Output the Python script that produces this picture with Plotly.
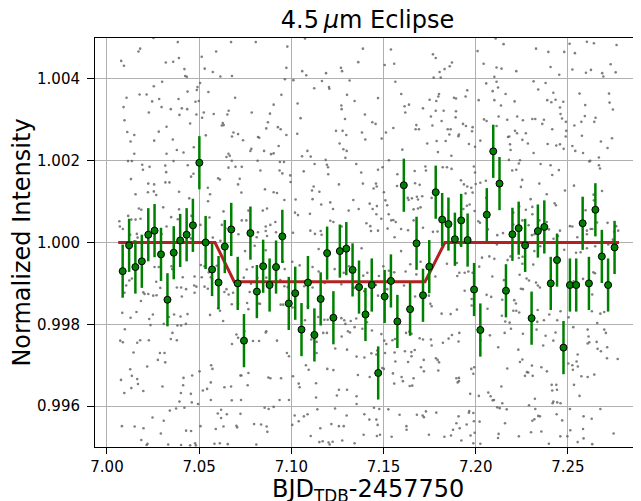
import plotly.graph_objects as go

# ---------------- binned light curve ----------------
bin_time = [7.0085, 7.0120, 7.0154, 7.0189, 7.0224, 7.0258, 7.0293, 7.0328, 7.0362, 7.0397,
            7.0432, 7.0466, 7.0501, 7.0535, 7.0570, 7.0605, 7.0639, 7.0674, 7.0709, 7.0743,
            7.0778, 7.0813, 7.0847, 7.0882, 7.0917, 7.0951, 7.0986, 7.1021, 7.1055, 7.1090,
            7.1125, 7.1159, 7.1194, 7.1228, 7.1263, 7.1298, 7.1332, 7.1367, 7.1402, 7.1436,
            7.1471, 7.1506, 7.1540, 7.1575, 7.1610, 7.1644, 7.1679, 7.1714, 7.1748, 7.1783,
            7.1818, 7.1852, 7.1887, 7.1921, 7.1956, 7.1991, 7.2025, 7.2060, 7.2095, 7.2129,
            7.2164, 7.2199, 7.2233, 7.2268, 7.2303, 7.2337, 7.2372, 7.2407, 7.2441, 7.2476,
            7.2511, 7.2545, 7.2580, 7.2614, 7.2649, 7.2684, 7.2718, 7.2753]
bin_flux = [0.99930, 0.99993, 0.99940, 0.99954, 1.00019, 1.00029, 0.99971, 0.99860, 0.99975, 1.00005,
            1.00019, 1.00042, 1.00195, 1.00000, 0.99934, 0.99902, 0.99990, 1.00032, 0.99900, 0.99760,
            1.00023, 0.99880, 0.99942, 0.99896, 0.99940, 1.00015, 0.99851, 0.99876, 0.99787, 0.99902,
            0.99774, 0.99862, 0.99974, 0.99816, 0.99979, 0.99985, 0.99933, 0.99891, 0.99824, 0.99896,
            0.99681, 0.99868, 0.99906, 0.99807, 1.00140, 0.99837, 0.99998, 0.99871, 0.99941, 1.00123,
            1.00056, 1.00045, 1.00008, 1.00054, 1.00006, 0.99885, 0.99786, 1.00068, 1.00223, 1.00144,
            0.99882, 1.00020, 1.00035, 0.99993, 0.99815, 1.00028, 1.00038, 0.99900, 0.99957, 0.99743,
            0.99896, 0.99896, 1.00047, 0.99900, 1.00080, 0.99966, 0.99896, 0.99988]
bin_err = [0.00065] * 78

# ---------------- eclipse model ----------------
model_time = [7.0061, 7.0586, 7.0690, 7.1725, 7.1833, 7.2777]
model_flux = [1.00000, 1.00000, 0.99904, 0.99904, 1.00000, 1.00000]

# ---------------- unbinned photometry (gray dots) ----------------
raw_time_a = [7.0384,7.0673,7.0807,7.0252,7.0180,7.0171,7.0592,7.0514,7.0077,7.0092,
 7.0319,7.0359,7.0390,7.0420,7.0530,7.0574,7.0615,7.0678,7.0424,7.0433,
 7.0299,7.0254,7.0505,7.0491,7.0487,7.0550,7.0177,7.0215,7.0106,7.0245,
 7.0283,7.0388,7.0437,7.0480,7.0498,7.0695,7.0090,7.0296,7.0346,7.0406,
 7.0435,7.0227,7.0393,7.0525,7.0516,7.0485,7.0579,7.0660,7.0653,7.0785,
 7.0904,7.0884,7.0095,7.0451,7.0628,7.0633,7.0623,7.0873,7.0864,7.0323,
 7.0281,7.0110,7.0148,7.0128,7.0256,7.0357,7.0686,7.0678,7.0711,7.0738,
 7.0819,7.0826,7.0471,7.0536,7.0783,7.0778,7.0852,7.0904,7.0890,7.0379,
 7.0415,7.0323,7.0659,7.0648,7.0666,7.0148,7.0114,7.0135,7.0361,7.0191,
 7.0231,7.0316,7.0195,7.0438,7.0659,7.0697,7.0731,7.0832,7.0817,7.0677,
 7.0321,7.0469,7.0456,7.0130,7.0603,7.0612,7.0720,7.0224,7.0256,7.0317,
 7.0339,7.0711,7.0547,7.0729,7.0857,7.0904,7.0155,7.0254,7.0222,7.0267,
 7.0391,7.0559,7.0548,7.0446,7.0305,7.0391,7.0173,7.0186,7.0868,7.0845,
 7.0767,7.0632,7.0115,7.0132,7.0155,7.0182,7.0348,7.0458,7.0384,7.0556,
 7.0731,7.0756,7.0067,7.0070,7.0086,7.0623,7.0642,7.0323,7.0507,7.0861,
 7.0861,7.0886,7.0913,7.0819,7.0812,7.0917,7.0162,7.0126,7.0166,7.0148,
 7.0215,7.0296,7.0455,7.0574,7.0615,7.0713,7.0868]
raw_flux_a = [1.00490,1.00490,1.00490,1.00500,1.00474,1.00467,1.00467,1.00454,1.00444,1.00432,
 1.00440,1.00442,1.00451,1.00424,1.00425,1.00417,1.00406,1.00407,1.00407,1.00405,
 1.00393,1.00382,1.00390,1.00380,1.00373,1.00368,1.00362,1.00362,1.00354,1.00345,
 1.00351,1.00351,1.00369,1.00344,1.00346,1.00354,1.00331,1.00331,1.00326,1.00328,
 1.00326,1.00318,1.00312,1.00318,1.00305,1.00313,1.00314,1.00322,1.00313,1.00318,
 1.00337,1.00315,1.00299,1.00291,1.00292,1.00287,1.00286,1.00294,1.00279,1.00283,
 1.00271,1.00270,1.00263,1.00247,1.00249,1.00252,1.00269,1.00259,1.00265,1.00250,
 1.00258,1.00256,1.00233,1.00262,1.00229,1.00224,1.00224,1.00218,1.00216,1.00226,
 1.00220,1.00217,1.00217,1.00209,1.00212,1.00217,1.00199,1.00199,1.00199,1.00190,
 1.00185,1.00188,1.00178,1.00189,1.00183,1.00185,1.00185,1.00176,1.00200,1.00200,
 1.00172,1.00168,1.00161,1.00155,1.00157,1.00154,1.00156,1.00144,1.00142,1.00147,
 1.00147,1.00142,1.00134,1.00122,1.00130,1.00123,1.00118,1.00125,1.00123,1.00116,
 1.00124,1.00118,1.00101,1.00108,1.00086,1.00081,1.00083,1.00080,1.00083,1.00078,
 1.00078,1.00076,1.00065,1.00056,1.00056,1.00058,1.00062,1.00065,1.00057,1.00061,
 1.00054,1.00054,1.00052,1.00039,1.00033,1.00043,1.00035,1.00039,1.00043,1.00039,
 1.00028,1.00043,1.00050,1.00025,1.00013,1.00025,1.00021,1.00019,1.00012,1.00003,
 1.00013,1.00021,1.00010,1.00012,1.00004,1.00020,1.00016]

raw_time_b = [7.0978,7.1074,7.1388,7.1540,7.1768,7.1783,7.1871,7.1859,7.1831,7.1804,
 7.1558,7.1506,7.1363,7.0973,7.1059,7.1081,7.1188,7.1269,7.1275,7.1772,
 7.1810,7.0965,7.1011,7.1166,7.1316,7.1564,7.1124,7.1204,7.1206,7.0946,
 7.1302,7.1343,7.1470,7.1596,7.1801,7.1797,7.1786,7.1750,7.1882,7.1893,
 7.1034,7.1271,7.1273,7.1614,7.1638,7.1618,7.1714,7.1783,7.1826,7.1893,
 7.1399,7.1050,7.1291,7.1757,7.1815,7.1891,7.1439,7.1457,7.1678,7.1674,
 7.1692,7.1765,7.1848,7.1864,7.1857,7.0927,7.0942,7.0973,7.1032,7.1242,
 7.1278,7.1298,7.1383,7.1513,7.1553,7.1737,7.1788,7.1837,7.1906,7.1401,
 7.1490,7.1262,7.1282,7.1300,7.0931,7.1087,7.1058,7.1105,7.1293,7.1186,
 7.1602,7.1795,7.1868,7.0938,7.0960,7.0936,7.0951,7.0994,7.1193,7.1199,
 7.1200,7.1126,7.1352,7.1470,7.1495,7.1529,7.1669,7.1727,7.1730,7.1821,
 7.1844,7.1869,7.1067,7.1379,7.0996,7.1121,7.1112,7.1152,7.1258,7.1388,
 7.1459,7.1463,7.1446,7.1575,7.1671,7.1696,7.1573,7.0922,7.0962,7.1023,
 7.1115,7.1162,7.1211,7.1336,7.1425,7.1464,7.1502,7.1510,7.1520,7.1631,
 7.1636,7.1654,7.1681,7.1687,7.1710,7.1761,7.1020,7.1036,7.1101,7.1226,
 7.1311,7.1365,7.1441,7.1461,7.1663,7.1687,7.1701,7.1009,7.1103,7.1128,
 7.1159,7.1164,7.1211,7.1228,7.1273,7.1407,7.1428,7.1432,7.1470,7.1488,
 7.1528,7.1542,7.1553,7.1522,7.1566,7.1595,7.1633,7.1560,7.1663,7.1714,
 7.1768,7.1793]
raw_flux_b = [1.00479,1.00499,1.00474,1.00472,1.00460,1.00451,1.00440,1.00431,1.00424,1.00417,
 1.00437,1.00434,1.00441,1.00427,1.00419,1.00409,1.00414,1.00427,1.00419,1.00403,
 1.00403,1.00399,1.00397,1.00395,1.00396,1.00393,1.00377,1.00380,1.00376,1.00361,
 1.00361,1.00346,1.00353,1.00363,1.00363,1.00357,1.00346,1.00349,1.00354,1.00352,
 1.00340,1.00335,1.00326,1.00333,1.00337,1.00318,1.00328,1.00322,1.00322,1.00321,
 1.00313,1.00304,1.00302,1.00308,1.00297,1.00306,1.00294,1.00290,1.00287,1.00277,
 1.00277,1.00286,1.00277,1.00277,1.00264,1.00282,1.00277,1.00263,1.00266,1.00273,
 1.00273,1.00263,1.00269,1.00269,1.00280,1.00242,1.00248,1.00248,1.00260,1.00252,
 1.00254,1.00242,1.00228,1.00224,1.00236,1.00224,1.00211,1.00210,1.00207,1.00202,
 1.00227,1.00221,1.00212,1.00197,1.00197,1.00176,1.00169,1.00164,1.00190,1.00184,
 1.00167,1.00192,1.00192,1.00178,1.00184,1.00201,1.00175,1.00186,1.00176,1.00184,
 1.00184,1.00180,1.00174,1.00171,1.00148,1.00137,1.00127,1.00124,1.00142,1.00144,
 1.00144,1.00137,1.00132,1.00167,1.00145,1.00141,1.00138,1.00121,1.00104,1.00105,
 1.00106,1.00093,1.00098,1.00104,1.00095,1.00089,1.00123,1.00103,1.00091,1.00109,
 1.00104,1.00108,1.00112,1.00105,1.00113,1.00109,1.00073,1.00067,1.00070,1.00082,
 1.00078,1.00082,1.00082,1.00069,1.00081,1.00083,1.00086,1.00024,1.00029,1.00021,
 1.00028,1.00019,1.00053,1.00050,1.00039,1.00047,1.00040,1.00028,1.00029,1.00058,
 1.00069,1.00054,1.00055,1.00034,1.00050,1.00033,1.00030,1.00013,1.00054,1.00036,
 1.00026,1.00027]

raw_time_c = [7.2108,7.2151,7.2327,7.2394,7.2480,7.2010,7.2043,7.2113,7.2140,7.2220,
 7.2406,7.2453,7.2101,7.2509,7.2603,7.2641,7.2764,7.2538,7.2524,7.2598,
 7.2625,7.2686,7.2692,7.2759,7.2732,7.2057,7.2113,7.2314,7.2379,7.1954,
 7.1945,7.2092,7.2121,7.2339,7.2421,7.2016,7.2101,7.2162,7.2211,7.2137,
 7.2388,7.2410,7.2433,7.2475,7.2457,7.2460,7.2563,7.2723,7.2726,7.2594,
 7.2744,7.2045,7.2059,7.2124,7.2171,7.2225,7.2256,7.2307,7.2323,7.2370,
 7.2361,7.2468,7.2489,7.2650,7.2643,7.2592,7.2573,7.2535,7.1931,7.1947,
 7.1983,7.1980,7.1909,7.2113,7.2213,7.2224,7.2272,7.2182,7.2175,7.2253,
 7.2283,7.2415,7.2491,7.2488,7.1963,7.1996,7.2025,7.2186,7.2390,7.2437,
 7.2457,7.2477,7.2524,7.2540,7.2582,7.2576,7.2679,7.2715,7.2739,7.2189,
 7.2314,7.2668,7.2240,7.2180,7.1990,7.1996,7.1920,7.1936,7.1954,7.1976,
 7.1983,7.1945,7.2000,7.2025,7.2055,7.2198,7.2220,7.2234,7.2252,7.2245,
 7.2352,7.2406,7.2451,7.2415,7.2345,7.2385,7.2484,7.2533,7.2685,7.2668,
 7.2674,7.2621,7.2616,7.2639,7.1967,7.1933,7.1952,7.1994,7.2014,7.2023,
 7.2057,7.2066,7.2148,7.2117,7.2204,7.2204,7.2236,7.2253,7.2272,7.2298,
 7.2307,7.2307,7.2287,7.2305,7.2345,7.2319,7.2385,7.2397,7.2422,7.2428,
 7.2435,7.2457,7.2446,7.2511,7.2524,7.2551,7.2596,7.2603,7.2641,7.2603,
 7.2623,7.2632,7.2658,7.2715,7.2751,7.2773,7.2762,7.2744]
raw_flux_c = [1.00499,1.00485,1.00474,1.00466,1.00466,1.00468,1.00437,1.00428,1.00425,1.00419,
 1.00429,1.00410,1.00405,1.00486,1.00491,1.00487,1.00483,1.00463,1.00423,1.00415,
 1.00422,1.00414,1.00406,1.00416,1.00436,1.00389,1.00393,1.00394,1.00390,1.00372,
 1.00357,1.00370,1.00379,1.00374,1.00366,1.00348,1.00348,1.00363,1.00345,1.00335,
 1.00348,1.00343,1.00349,1.00344,1.00330,1.00314,1.00364,1.00364,1.00342,1.00336,
 1.00325,1.00301,1.00297,1.00308,1.00300,1.00308,1.00299,1.00302,1.00302,1.00300,
 1.00290,1.00303,1.00295,1.00305,1.00295,1.00309,1.00295,1.00286,1.00290,1.00285,
 1.00282,1.00272,1.00264,1.00285,1.00273,1.00267,1.00267,1.00259,1.00258,1.00251,
 1.00242,1.00277,1.00273,1.00259,1.00241,1.00234,1.00249,1.00240,1.00241,1.00237,
 1.00240,1.00229,1.00236,1.00224,1.00219,1.00261,1.00247,1.00231,1.00255,1.00226,
 1.00219,1.00208,1.00201,1.00202,1.00186,1.00171,1.00152,1.00142,1.00137,1.00134,
 1.00122,1.00120,1.00143,1.00146,1.00151,1.00176,1.00178,1.00193,1.00153,1.00136,
 1.00192,1.00189,1.00177,1.00165,1.00144,1.00118,1.00127,1.00139,1.00126,1.00189,
 1.00181,1.00200,1.00198,1.00117,1.00093,1.00082,1.00090,1.00077,1.00052,1.00048,
 1.00109,1.00032,1.00023,1.00018,1.00073,1.00044,1.00088,1.00054,1.00080,1.00106,
 1.00087,1.00069,1.00042,1.00018,1.00054,1.00020,1.00050,1.00032,1.00009,1.00096,
 1.00091,1.00029,1.00016,1.00040,1.00039,1.00013,1.00079,1.00029,1.00103,1.00020,
 1.00033,1.00033,1.00049,1.00048,1.00026,1.00029,1.00040,1.00007]

raw_time_d = [7.0749,7.0801,7.0861,7.0509,7.0529,7.0514,7.0563,7.0570,7.0552,7.0595,
 7.0758,7.0790,7.0742,7.0781,7.0774,7.0816,7.0864,7.0104,7.0095,7.0121,
 7.0135,7.0197,7.0204,7.0184,7.0224,7.0251,7.0269,7.0289,7.0267,7.0258,
 7.0281,7.0350,7.0354,7.0411,7.0475,7.0473,7.0485,7.0475,7.0379,7.0402,
 7.0406,7.0429,7.0529,7.0547,7.0648,7.0637,7.0660,7.0684,7.0677,7.0711,
 7.0760,7.0767,7.0821,7.0830,7.0613,7.0603,7.0630,7.0559,7.0437,7.0399,
 7.0364,7.0336,7.0308,7.0382,7.0402,7.0428,7.0249,7.0229,7.0236,7.0160,
 7.0128,7.0083,7.0097,7.0072,7.0086,7.0164,7.0180,7.0227,7.0144,7.0287,
 7.0312,7.0276,7.0316,7.0355,7.0346,7.0379,7.0218,7.0126,7.0135,7.0076,
 7.0164,7.0168,7.0132,7.0197,7.0094,7.0301,7.0415,7.0462,7.0413,7.0455,
 7.0401,7.0502,7.0565,7.0572,7.0563,7.0543,7.0520,7.0678,7.0702,7.0711,
 7.0745,7.0792,7.0825,7.0724,7.0767,7.0729,7.0637,7.0673,7.0763,7.0677,
 7.0563,7.0727,7.0875,7.0886,7.0864,7.0861,7.0375,7.0341,7.0460,7.0393,
 7.0420,7.0494,7.0619,7.0601,7.0619,7.0650,7.0724,7.0855,7.0877,7.0904,
 7.0247,7.0308,7.0081,7.0150,7.0198,7.0292,7.0456,7.0429,7.0507,7.0590,
 7.0632,7.0702,7.0706,7.0798,7.0836,7.0866,7.0870,7.0186,7.0220,7.0215,
 7.0332,7.0402,7.0451,7.0478,7.0482,7.0583,7.0612,7.0655,7.0810]
raw_flux_d = [0.99979,0.99992,0.99981,0.99945,0.99942,0.99915,0.99915,0.99911,0.99927,0.99943,
 0.99934,0.99940,0.99914,0.99899,0.99879,0.99913,0.99914,0.99895,0.99877,0.99907,
 0.99912,0.99878,0.99874,0.99857,0.99874,0.99870,0.99871,0.99889,0.99904,0.99940,
 0.99940,0.99942,0.99935,0.99915,0.99917,0.99895,0.99892,0.99877,0.99890,0.99890,
 0.99868,0.99886,0.99892,0.99887,0.99886,0.99879,0.99873,0.99877,0.99849,0.99850,
 0.99852,0.99837,0.99851,0.99850,0.99833,0.99839,0.99808,0.99823,0.99825,0.99819,
 0.99824,0.99818,0.99801,0.99797,0.99797,0.99801,0.99824,0.99813,0.99798,0.99830,
 0.99816,0.99828,0.99788,0.99760,0.99756,0.99755,0.99761,0.99761,0.99731,0.99730,
 0.99730,0.99713,0.99707,0.99779,0.99764,0.99761,0.99697,0.99690,0.99674,0.99664,
 0.99666,0.99654,0.99644,0.99637,0.99632,0.99648,0.99669,0.99675,0.99651,0.99630,
 0.99632,0.99685,0.99700,0.99691,0.99658,0.99642,0.99638,0.99752,0.99775,0.99767,
 0.99783,0.99759,0.99759,0.99675,0.99681,0.99675,0.99646,0.99648,0.99651,0.99614,
 0.99615,0.99615,0.99670,0.99668,0.99783,0.99780,0.99594,0.99589,0.99609,0.99611,
 0.99596,0.99605,0.99591,0.99582,0.99571,0.99580,0.99581,0.99596,0.99593,0.99598,
 0.99572,0.99564,0.99551,0.99550,0.99546,0.99533,0.99539,0.99540,0.99551,0.99544,
 0.99550,0.99552,0.99548,0.99556,0.99555,0.99550,0.99537,0.99517,0.99508,0.99505,
 0.99506,0.99505,0.99504,0.99509,0.99504,0.99508,0.99509,0.99507,0.99506]

raw_time_e = [7.1148,7.1193,7.1381,7.1595,7.1645,7.1701,7.1748,7.1844,7.1900,7.1898,
 7.0955,7.1005,7.0964,7.1045,7.1115,7.1148,7.1235,7.1313,7.1284,7.1390,
 7.1412,7.1475,7.1499,7.1529,7.1558,7.1620,7.1781,7.1678,7.0940,7.0962,
 7.0980,7.1070,7.1115,7.1181,7.1271,7.1340,7.1396,7.1459,7.1470,7.1520,
 7.1611,7.1671,7.1746,7.1754,7.1761,7.1815,7.1864,7.1898,7.0942,7.0956,
 7.1007,7.1090,7.1074,7.1146,7.1179,7.1197,7.1271,7.1287,7.1322,7.1352,
 7.1410,7.1293,7.1307,7.1318,7.1343,7.1385,7.1437,7.1173,7.1193,7.1124,
 7.1108,7.1137,7.1273,7.1488,7.1504,7.1515,7.1548,7.1562,7.1622,7.1640,
 7.1652,7.1696,7.1714,7.1757,7.1761,7.1822,7.1853,7.1871,7.1907,7.0922,
 7.0976,7.0987,7.1137,7.1238,7.1302,7.1354,7.1396,7.1434,7.1466,7.1461,
 7.1508,7.1560,7.1616,7.1651,7.1669,7.1652,7.1718,7.1784,7.1793,7.1801,
 7.1633,7.1564,7.1079,7.1094,7.1195,7.1228,7.1361,7.1425,7.1493,7.1502,
 7.1551,7.1598,7.1663,7.1605,7.1642,7.1656,7.1558,7.1719,7.1797,7.1703,
 7.1895,7.1902,7.0944,7.1040,7.1045,7.1009,7.1134,7.1258,7.1247,7.1302,
 7.0987,7.0936,7.1134,7.1354,7.1354,7.1448,7.1477,7.1526,7.1587,7.1681,
 7.1712,7.1719,7.1730,7.1786,7.1907,7.1018,7.1005,7.1040,7.1068,7.1088,
 7.1141,7.1237,7.1217,7.1258,7.1284,7.1300,7.1396,7.1423,7.1461,7.1468,
 7.1624,7.1625,7.1544,7.1746,7.1830,7.1866,7.1877,7.1895,7.1157,7.1105,
 7.1152,7.1170,7.1202,7.1208,7.1224,7.1276,7.1343,7.1392,7.1464,7.1481]
raw_flux_e = [0.99984,0.99983,0.99986,0.99979,0.99947,0.99953,0.99960,0.99948,0.99918,0.99950,
 0.99953,0.99953,0.99935,0.99944,0.99940,0.99929,0.99935,0.99942,0.99926,0.99919,
 0.99926,0.99918,0.99942,0.99931,0.99927,0.99929,0.99917,0.99922,0.99908,0.99893,
 0.99891,0.99893,0.99890,0.99901,0.99898,0.99889,0.99881,0.99896,0.99870,0.99886,
 0.99895,0.99868,0.99870,0.99850,0.99844,0.99826,0.99825,0.99836,0.99848,0.99848,
 0.99841,0.99844,0.99810,0.99818,0.99811,0.99811,0.99815,0.99810,0.99808,0.99814,
 0.99805,0.99801,0.99783,0.99780,0.99793,0.99789,0.99785,0.99779,0.99779,0.99768,
 0.99763,0.99757,0.99770,0.99776,0.99760,0.99752,0.99761,0.99764,0.99779,0.99782,
 0.99777,0.99766,0.99763,0.99763,0.99748,0.99755,0.99765,0.99774,0.99758,0.99760,
 0.99730,0.99722,0.99730,0.99741,0.99738,0.99721,0.99719,0.99729,0.99736,0.99726,
 0.99730,0.99731,0.99734,0.99732,0.99737,0.99722,0.99713,0.99717,0.99713,0.99707,
 0.99708,0.99709,0.99700,0.99689,0.99691,0.99688,0.99676,0.99671,0.99693,0.99691,
 0.99680,0.99671,0.99668,0.99661,0.99649,0.99650,0.99655,0.99685,0.99687,0.99695,
 0.99668,0.99658,0.99668,0.99655,0.99646,0.99673,0.99656,0.99640,0.99626,0.99640,
 0.99615,0.99615,0.99621,0.99605,0.99624,0.99596,0.99593,0.99592,0.99579,0.99579,
 0.99577,0.99573,0.99587,0.99584,0.99575,0.99577,0.99554,0.99563,0.99575,0.99580,
 0.99592,0.99594,0.99556,0.99551,0.99551,0.99577,0.99580,0.99567,0.99567,0.99554,
 0.99551,0.99542,0.99525,0.99530,0.99525,0.99528,0.99542,0.99558,0.99546,0.99527,
 0.99512,0.99514,0.99511,0.99506,0.99513,0.99516,0.99509,0.99530,0.99527,0.99530]

raw_time_f = [7.1918,7.2115,7.2177,7.2318,7.2350,7.2480,7.2544,7.2569,7.2603,7.2648,
 7.2719,7.2034,7.2074,7.2101,7.2173,7.2189,7.2234,7.2254,7.2253,7.2312,
 7.1940,7.1911,7.1960,7.1983,7.2019,7.2090,7.2153,7.2276,7.2289,7.2238,
 7.2327,7.2337,7.2348,7.2245,7.2256,7.1940,7.1978,7.1978,7.2059,7.2084,
 7.2064,7.2144,7.2142,7.2209,7.2218,7.2204,7.2220,7.2236,7.2160,7.2184,
 7.2336,7.2334,7.2370,7.2399,7.2442,7.2460,7.2504,7.2531,7.2582,7.2638,
 7.2647,7.2632,7.2630,7.2676,7.2659,7.2697,7.1911,7.2025,7.2077,7.2157,
 7.2191,7.2256,7.2330,7.2379,7.2433,7.2421,7.2366,7.2122,7.2231,7.2240,
 7.2253,7.2278,7.2267,7.2285,7.2305,7.2309,7.2356,7.2386,7.2171,7.1976,
 7.1992,7.1987,7.1909,7.1909,7.2529,7.2607,7.2612,7.2616,7.2607,7.2656,
 7.2661,7.2679,7.2697,7.2706,7.2713,7.2712,7.2770,7.2553,7.2547,7.2554,
 7.2524,7.2527,7.2502,7.2573,7.2643,7.2607,7.2533,7.2563,7.2412,7.2437,
 7.2441,7.2415,7.2421,7.2417,7.2442,7.2460,7.2139,7.2068,7.2081,7.2092,
 7.2099,7.2144,7.2017,7.1970,7.2321,7.2289,7.2323,7.2339,7.2348,7.2318,
 7.2307,7.2356,7.2300,7.2234,7.2117,7.2130,7.2168,7.2159,7.2124,7.2121,
 7.2021,7.1990,7.1965,7.1963,7.1987,7.1913,7.1951,7.1922,7.1972,7.1994,
 7.1987,7.2025,7.2397,7.2439,7.2469,7.2459,7.2497,7.2511,7.2513,7.2585,
 7.2629,7.2582,7.2553,7.2585,7.2632,7.2676,7.2748]
raw_flux_f = [0.99995,0.99995,0.99999,0.99979,0.99991,0.99982,0.99975,0.99976,0.99986,0.99991,
 0.99995,0.99963,0.99966,0.99960,0.99957,0.99966,0.99962,0.99965,0.99948,0.99946,
 0.99926,0.99926,0.99929,0.99926,0.99941,0.99917,0.99908,0.99912,0.99907,0.99921,
 0.99902,0.99895,0.99890,0.99887,0.99886,0.99882,0.99862,0.99846,0.99872,0.99867,
 0.99838,0.99860,0.99821,0.99859,0.99851,0.99833,0.99833,0.99829,0.99807,0.99804,
 0.99835,0.99806,0.99810,0.99824,0.99810,0.99832,0.99817,0.99905,0.99911,0.99927,
 0.99925,0.99873,0.99832,0.99826,0.99803,0.99830,0.99779,0.99761,0.99773,0.99779,
 0.99789,0.99777,0.99787,0.99772,0.99780,0.99760,0.99748,0.99744,0.99738,0.99708,
 0.99714,0.99683,0.99674,0.99682,0.99699,0.99674,0.99695,0.99685,0.99692,0.99691,
 0.99695,0.99679,0.99669,0.99661,0.99793,0.99787,0.99770,0.99756,0.99753,0.99757,
 0.99740,0.99734,0.99787,0.99779,0.99744,0.99717,0.99715,0.99726,0.99709,0.99697,
 0.99700,0.99689,0.99704,0.99673,0.99677,0.99671,0.99652,0.99625,0.99652,0.99652,
 0.99640,0.99638,0.99611,0.99607,0.99609,0.99607,0.99648,0.99633,0.99624,0.99614,
 0.99615,0.99607,0.99625,0.99630,0.99618,0.99602,0.99593,0.99576,0.99575,0.99568,
 0.99564,0.99538,0.99536,0.99526,0.99597,0.99595,0.99592,0.99558,0.99532,0.99522,
 0.99562,0.99563,0.99588,0.99584,0.99583,0.99546,0.99555,0.99516,0.99528,0.99535,
 0.99509,0.99508,0.99508,0.99580,0.99565,0.99526,0.99526,0.99593,0.99541,0.99575,
 0.99569,0.99544,0.99512,0.99521,0.99507,0.99593,0.99533]

x_ticks = [7.00, 7.05, 7.10, 7.15, 7.20, 7.25]
x_tick_labels = ["7.00", "7.05", "7.10", "7.15", "7.20", "7.25"]
y_ticks = [0.996, 0.998, 1.000, 1.002, 1.004]
y_tick_labels = ["0.996", "0.998", "1.000", "1.002", "1.004"]

raw_time, raw_flux = [], []
for t, f in [(raw_time_a, raw_flux_a), (raw_time_b, raw_flux_b), (raw_time_c, raw_flux_c),
             (raw_time_d, raw_flux_d), (raw_time_e, raw_flux_e), (raw_time_f, raw_flux_f)]:
    n = min(len(t), len(f))
    raw_time += t[:n]
    raw_flux += f[:n]

FONT = "DejaVu Sans"
# the page body adds an 8 px margin; the figure is offset by it and runs past the window's bottom edge
W, H = 633, 501
PLOT_H = H - 30 - 62

fig = go.Figure()
fig.add_trace(go.Scatter(
    x=raw_time, y=raw_flux, mode="markers",
    marker=dict(size=2.6, color="rgba(95,95,95,0.8)"),
    hoverinfo="skip", showlegend=False))
fig.add_trace(go.Scatter(
    x=model_time, y=model_flux, mode="lines",
    line=dict(color="#b22222", width=3), showlegend=False))
fig.add_trace(go.Scatter(
    x=bin_time, y=bin_flux, mode="markers",
    error_y=dict(type="data", array=bin_err, color="#008000", thickness=2.5, width=0),
    marker=dict(size=7, color="#008000", line=dict(color="black", width=1)),
    showlegend=False))

fig.update_layout(
    width=W, height=H,
    margin=dict(l=87, r=1, t=30, b=62),
    template="none",
    paper_bgcolor="white", plot_bgcolor="white",
    font=dict(family=FONT, color="black"),
    title=dict(text="4.5\u2009<i>\u03bc</i>m Eclipse", x=0.5, xref="paper", xanchor="center",
               y=1 - 12 / H, yref="container", yanchor="middle",
               font=dict(family=FONT, size=24, color="black")),
    showlegend=False,
    annotations=[dict(
        text="BJD<sub>TDB</sub>-2457750", xref="paper", yref="paper",
        x=0.5, y=-26 / PLOT_H, xanchor="center", yanchor="top", showarrow=False,
        font=dict(family=FONT, size=24, color="black"))],
)
fig.update_xaxes(
    range=[6.9935, 7.2891], tickmode="array", tickvals=x_ticks, ticktext=x_tick_labels,
    ticks="outside", ticklen=6, tickwidth=1, tickcolor="black", ticklabelstandoff=0,
    showline=True, linecolor="black", linewidth=1, mirror=True,
    showgrid=True, gridcolor="#b0b0b0", gridwidth=1, zeroline=False,
    tickfont=dict(family=FONT, size=15, color="black"),
    automargin=False,
)
fig.update_yaxes(
    range=[0.995, 1.005], tickmode="array", tickvals=y_ticks, ticktext=y_tick_labels,
    ticks="outside", ticklen=7, tickwidth=1, tickcolor="black", ticklabelstandoff=4,
    showline=True, linecolor="black", linewidth=1, mirror=True,
    showgrid=True, gridcolor="#b0b0b0", gridwidth=1, zeroline=False,
    tickfont=dict(family=FONT, size=15, color="black"),
    title=dict(text="Normalized Intensity", font=dict(family=FONT, size=24, color="black"),
               standoff=1),
    automargin=False,
)

fig.write_html("out.html")
